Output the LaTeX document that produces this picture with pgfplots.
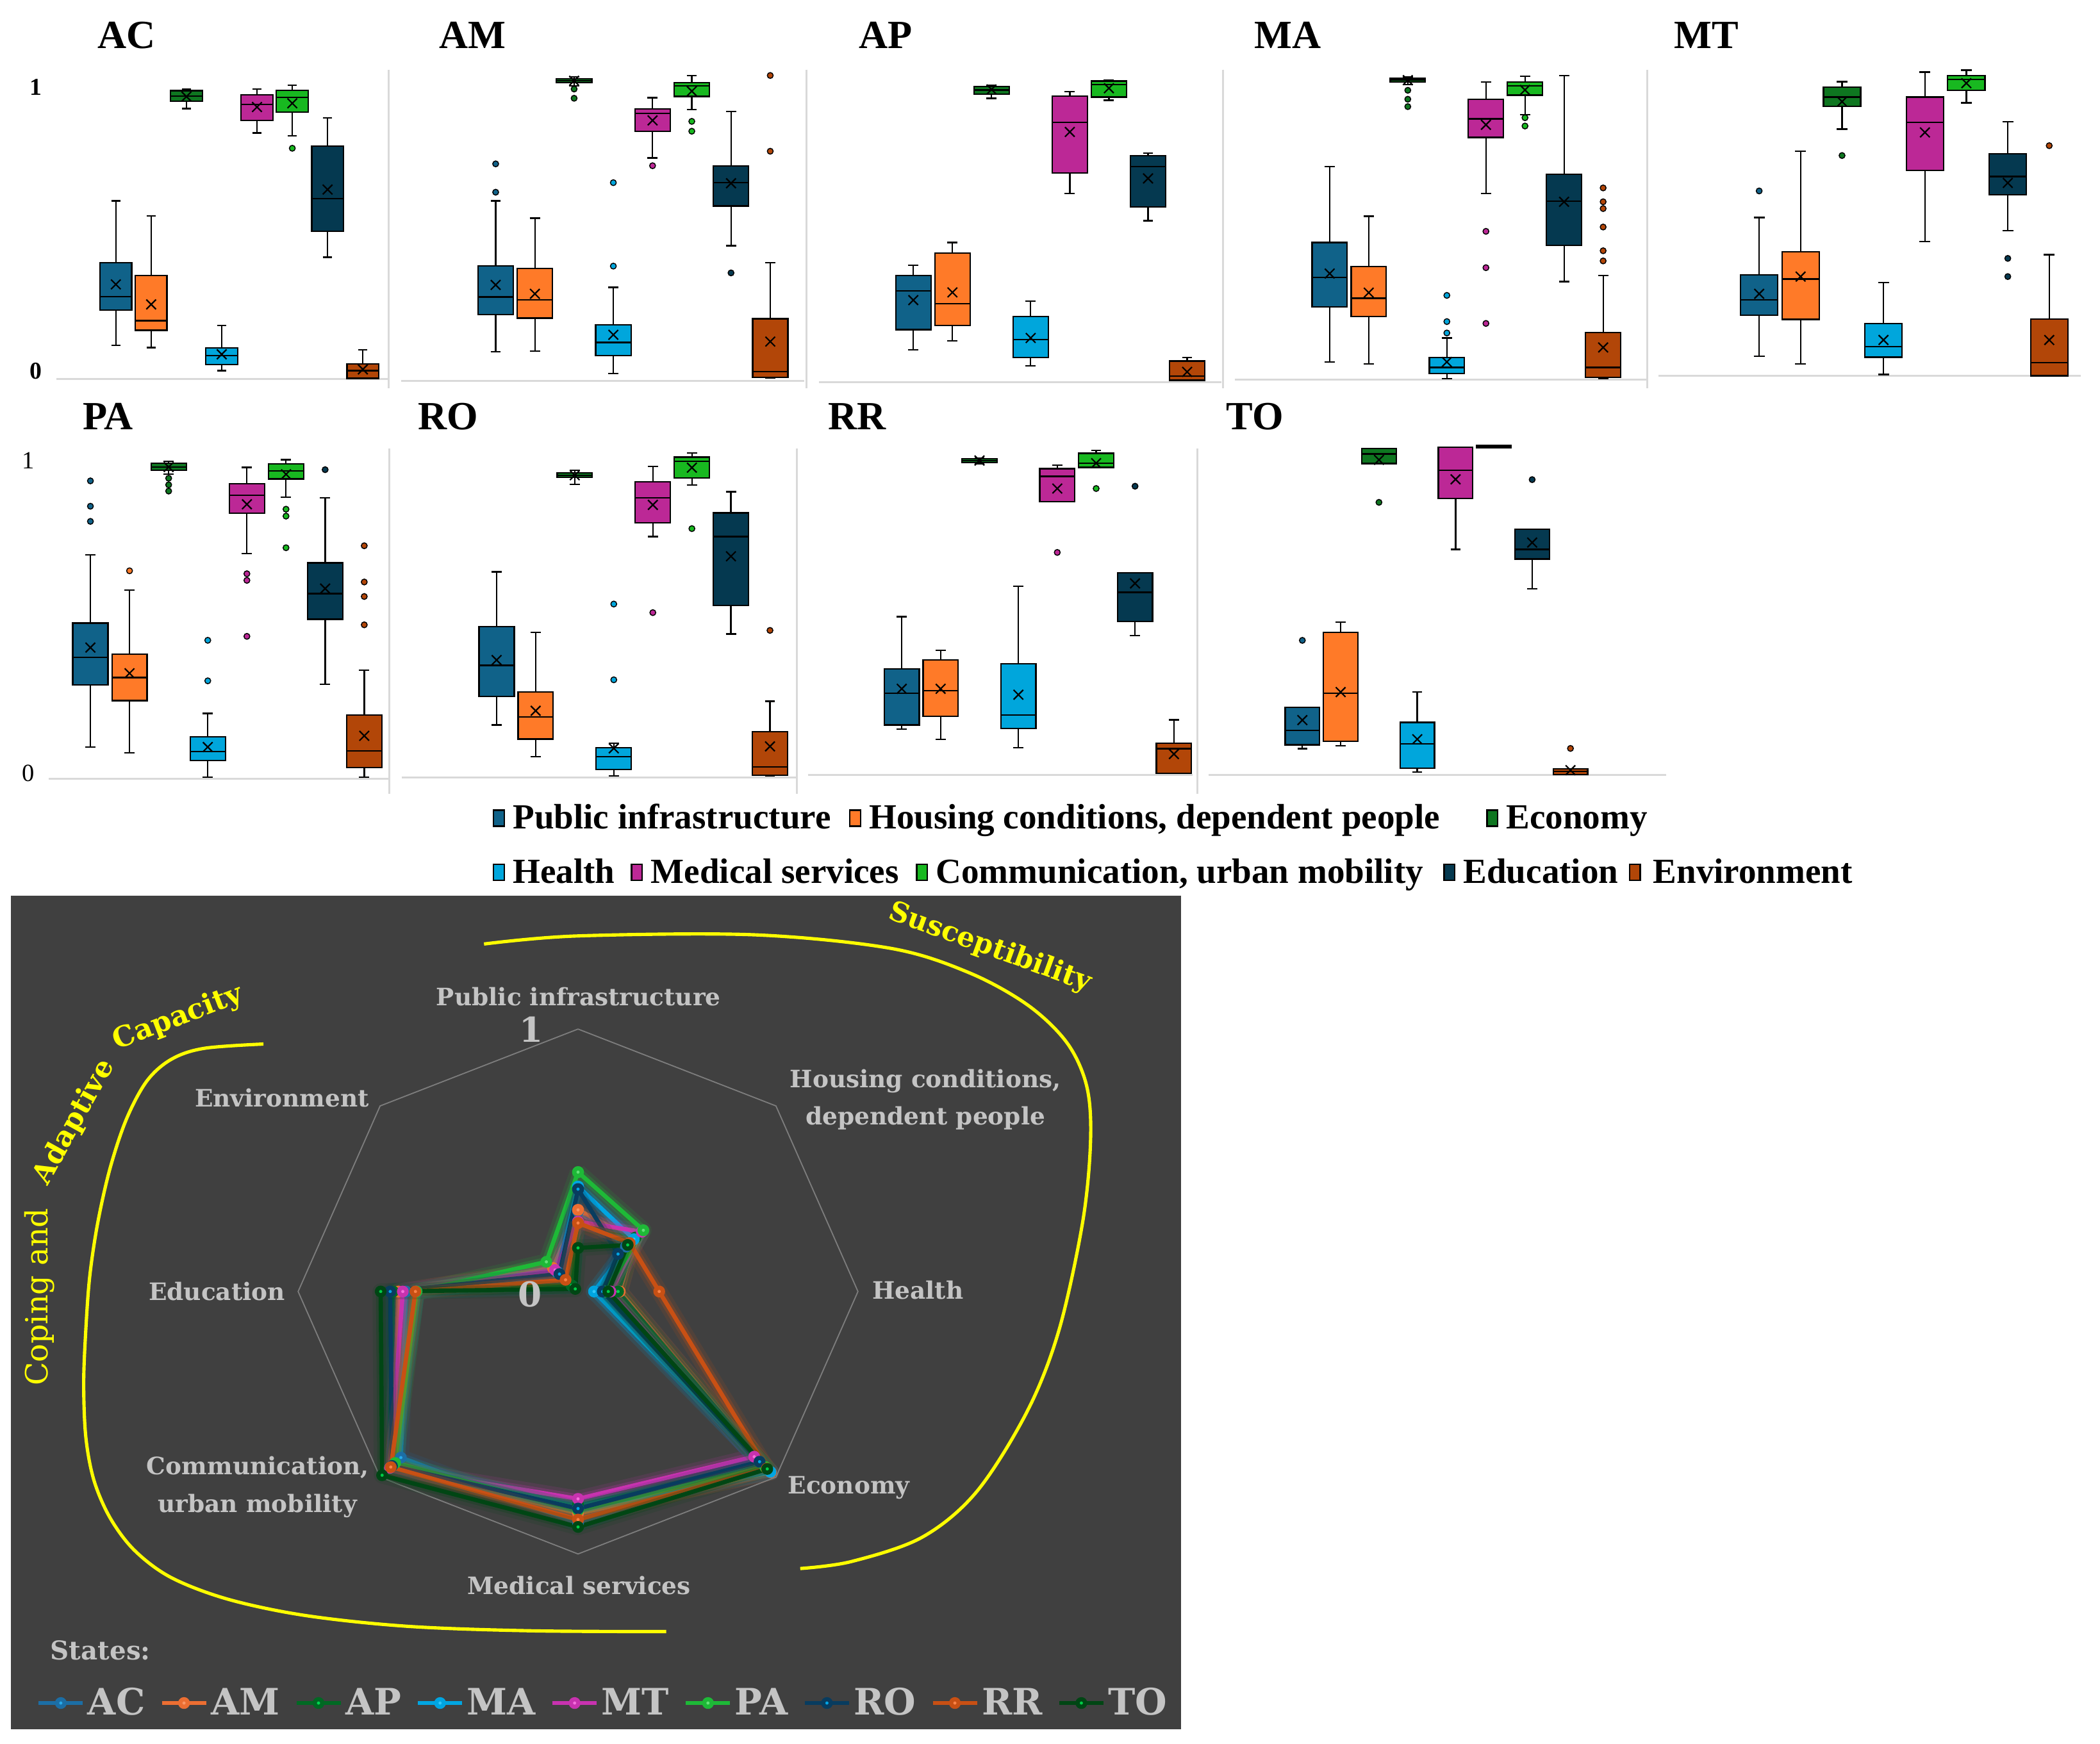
\documentclass[border=0pt]{standalone}
\usepackage{pgfplots}
\pgfplotsset{compat=1.18}
\usepackage{pgfplotstable}
\usepgfplotslibrary{statistics}
\usepackage{fontspec}
\setmainfont{Liberation Serif}
\newfontfamily\dvs{DejaVu Serif}

\definecolor{cPI}{RGB}{16,98,137}
\definecolor{cHO}{RGB}{255,122,40}
\definecolor{cEC}{RGB}{14,118,32}
\definecolor{cHE}{RGB}{0,166,220}
\definecolor{cME}{RGB}{188,40,150}
\definecolor{cCO}{RGB}{24,184,32}
\definecolor{cED}{RGB}{5,57,80}
\definecolor{cEN}{RGB}{178,70,8}
\definecolor{bgdark}{RGB}{64,64,64}
\definecolor{lblgray}{RGB}{196,196,196}
\definecolor{octgray}{RGB}{125,125,125}
\definecolor{sepgray}{RGB}{217,217,217}
\definecolor{yel}{RGB}{255,255,0}
\definecolor{sAC}{RGB}{28,110,165}\definecolor{dAC}{RGB}{40,170,235}
\definecolor{sAM}{RGB}{235,110,50}\definecolor{dAM}{RGB}{250,150,100}
\definecolor{sAP}{RGB}{0,105,35}\definecolor{dAP}{RGB}{0,215,80}
\definecolor{sMA}{RGB}{0,165,225}\definecolor{dMA}{RGB}{50,200,250}
\definecolor{sMT}{RGB}{200,50,175}\definecolor{dMT}{RGB}{245,110,220}
\definecolor{sPA}{RGB}{30,185,55}\definecolor{dPA}{RGB}{100,225,120}
\definecolor{sRO}{RGB}{8,60,95}\definecolor{dRO}{RGB}{0,165,230}
\definecolor{sRR}{RGB}{200,80,20}\definecolor{dRR}{RGB}{250,130,70}
\definecolor{sTO}{RGB}{0,70,20}\definecolor{dTO}{RGB}{0,205,70}

\pgfplotsset{
 bpax/.style={anchor=south west, scale only axis, hide axis, ymin=0, ymax=1, clip=false,
   boxplot/draw direction=y, boxplot/box extend=0.9, boxplot/whisker extend=0.26},
 bps/.style={fill=#1, draw=black, line width=0.62pt, solid, mark=*, mark size=1.25pt,
   mark options={fill=#1, draw=black, line width=0.4pt}},
 meanx/.style={only marks, mark=x, mark size=2.9pt, black, line width=0.6pt},
}
\newcommand{\bxx}[7]{\addplot[bps=#2, boxplot prepared={draw position=#1, lower whisker=#3, lower quartile=#4, median=#5, upper quartile=#6, upper whisker=#7}] coordinates {};}
\newcommand{\bxo}[8]{\addplot[bps=#2, boxplot prepared={draw position=#1, lower whisker=#3, lower quartile=#4, median=#5, upper quartile=#6, upper whisker=#7}] table[row sep=\\, y index=0] {v\\ #8};}
\newcommand{\basel}{\draw[sepgray, line width=0.9pt] (rel axis cs:0,0) -- (rel axis cs:1,0);}

\pgfplotstableread{
ang AC AM AP MA MT PA RO RR TO
90 .307 .311 .266 .400 .266 .455 .390 .261 .166
45 .242 .282 .291 .282 .322 .330 .202 .261 .251
0 .080 .149 .143 .057 .116 .096 .088 .290 .108
-45 .917 .974 .950 .972 .890 .946 .917 .954 .956
-90 .883 .845 .812 .827 .790 .833 .827 .869 .897
-135 .895 .940 .954 .940 .950 .924 .940 .946 .990
-180 .615 .641 .661 .577 .626 .577 .671 .581 .705
135 .031 .127 .033 .104 .116 .160 .094 .063 .014
90 .307 .311 .266 .400 .266 .455 .390 .261 .166
}\radar
\pgfplotstableread{
ang r
90 1
45 1
0 1
-45 1
-90 1
-135 1
-180 1
135 1
90 1
}\octo
\newcommand{\rad}[3]{%
\addplot[#2, line width=7pt, opacity=0.13, line join=round, forget plot, mark=none] table[x expr={\thisrow{#1}*cos(\thisrow{ang})}, y expr={\thisrow{#1}*sin(\thisrow{ang})}] {\radar};
\addplot[#2, line width=4pt, opacity=0.25, line join=round, forget plot, mark=none] table[x expr={\thisrow{#1}*cos(\thisrow{ang})}, y expr={\thisrow{#1}*sin(\thisrow{ang})}] {\radar};
\addplot[#2, line width=1.8pt, line join=round, mark=*, mark size=1.6pt, mark options={fill=#3, draw=none}] table[x expr={\thisrow{#1}*cos(\thisrow{ang})}, y expr={\thisrow{#1}*sin(\thisrow{ang})}] {\radar};
\addlegendentry{#1}}

\newcommand{\ttl}{\fontsize{17}{20}\selectfont\bfseries}
\newcommand{\lgf}{\fontsize{15}{18}\selectfont\bfseries}
\newcommand{\rlf}{\dvs\bfseries\fontsize{10.2}{12}\selectfont}

\begin{document}
\begin{tikzpicture}
\useasboundingbox (0,0) rectangle (313.6mm,-260.4mm);
\begin{scope}[x=0.2mm,y=-0.2mm]
\fill[white] (0,0) rectangle (1568,1302);
\fill[bgdark] (8.2,669) rectangle (881.7,1291.3);
\foreach \xx in {290.2,602,913,1230} \draw[sepgray, line width=0.8pt] (\xx,52) -- (\xx,290);
\foreach \xx in {290.7,595,894} \draw[sepgray, line width=0.8pt] (\xx,335) -- (\xx,593);
% titles
\node[font=\ttl, inner sep=0] at (94.5,26.5) {AC};
\node[font=\ttl, inner sep=0] at (353,26.5) {AM};
\node[font=\ttl, inner sep=0] at (661.5,26.5) {AP};
\node[font=\ttl, inner sep=0] at (961.5,26.5) {MA};
\node[font=\ttl, inner sep=0] at (1274,26.5) {MT};
\node[font=\ttl, inner sep=0] at (80.6,311) {PA};
\node[font=\ttl, inner sep=0] at (334.5,311) {RO};
\node[font=\ttl, inner sep=0] at (640,311) {RR};
\node[font=\ttl, inner sep=0] at (937,311) {TO};
% y labels
\node[font=\fontsize{10.3}{12}\selectfont\bfseries, inner sep=0] at (27,65) {1};
\node[font=\fontsize{10.3}{12}\selectfont\bfseries, inner sep=0] at (27,277) {0};
\node[font=\fontsize{10.5}{12}\selectfont, inner sep=0] at (21,344) {1};
\node[font=\fontsize{10.5}{12}\selectfont, inner sep=0] at (21,577.6) {0};
% legend of box plots
\filldraw[fill=cPI, draw=black, line width=0.6pt] (368.5,605) rectangle (376.5,617);
\node[anchor=base west, inner sep=0, font=\lgf] at (382.6,618.8) {Public infrastructure};
\filldraw[fill=cHO, draw=black, line width=0.6pt] (634.5,605) rectangle (642.5,617);
\node[anchor=base west, inner sep=0, font=\lgf] at (648.6,618.8) {Housing conditions, dependent people};
\filldraw[fill=cEC, draw=black, line width=0.6pt] (1110.3,605) rectangle (1118.3,617);
\node[anchor=base west, inner sep=0, font=\lgf] at (1124.3,618.8) {Economy};
\filldraw[fill=cHE, draw=black, line width=0.6pt] (368.5,645.5) rectangle (376.5,657.5);
\node[anchor=base west, inner sep=0, font=\lgf] at (382.6,659.4) {Health};
\filldraw[fill=cME, draw=black, line width=0.6pt] (471.5,645.5) rectangle (479.5,657.5);
\node[anchor=base west, inner sep=0, font=\lgf] at (485.7,659.4) {Medical services};
\filldraw[fill=cCO, draw=black, line width=0.6pt] (684.5,645.5) rectangle (692.5,657.5);
\node[anchor=base west, inner sep=0, font=\lgf] at (698.5,659.4) {Communication, urban mobility};
\filldraw[fill=cED, draw=black, line width=0.6pt] (1078.3,645.5) rectangle (1086.3,657.5);
\node[anchor=base west, inner sep=0, font=\lgf] at (1092.3,659.4) {Education};
\filldraw[fill=cEN, draw=black, line width=0.6pt] (1216.7,645.5) rectangle (1224.7,657.5);
\node[anchor=base west, inner sep=0, font=\lgf] at (1234,659.4) {Environment};
\end{scope}

% ---------------- AC
\begin{axis}[bpax, at={(8.38mm,-56.6mm)}, width=49.66mm, height=46mm, xmin=-0.693, xmax=8.731]
\basel
\bxx{1}{cPI}{.109}{.223}{.267}{.377}{.578}
\bxx{2}{cHO}{.102}{.158}{.189}{.336}{.529}
\bxx{3}{cEC}{.878}{.901}{.919}{.936}{.940}
\bxx{4}{cHE}{.027}{.046}{.076}{.101}{.173}
\bxx{5}{cME}{.799}{.840}{.891}{.922}{.942}
\bxo{6}{cCO}{.790}{.866}{.914}{.937}{.954}{.749\\}
\bxx{7}{cED}{.395}{.480}{.585}{.756}{.847}
\bxx{8}{cEN}{.002}{.002}{.027}{.049}{.095}
\addplot[meanx] coordinates {(1,.307)(2,.242)(3,.917)(4,.080)(5,.883)(6,.895)(7,.615)(8,.031)};
\end{axis}
% ---------------- AM
\begin{axis}[bpax, at={(59.9mm,-56.86mm)}, width=60.18mm, height=46mm, xmin=-1.410, xmax=8.863]
\basel
\bxo{1}{cPI}{.094}{.215}{.272}{.372}{.584}{.612\\.704\\}
\bxx{2}{cHO}{.096}{.203}{.262}{.364}{.528}
\bxo{3}{cEC}{.958}{.968}{.974}{.980}{.986}{.947\\.917\\}
\bxo{4}{cHE}{.023}{.082}{.124}{.182}{.303}{.372\\.643\\}
\bxo{5}{cME}{.723}{.810}{.868}{.882}{.919}{.698\\}
\bxo{6}{cCO}{.880}{.923}{.958}{.968}{.991}{.842\\.810\\}
\bxo{7}{cED}{.438}{.567}{.643}{.698}{.874}{.350\\}
\bxo{8}{cEN}{.008}{.011}{.029}{.201}{.383}{.745\\.991\\}
\addplot[meanx] coordinates {(1,.311)(2,.282)(3,.974)(4,.149)(5,.845)(6,.940)(7,.641)(8,.127)};
\end{axis}
% ---------------- AP
\begin{axis}[bpax, at={(122.28mm,-57.06mm)}, width=60.12mm, height=46mm, xmin=-1.414, xmax=8.877]
\basel
\bxx{1}{cPI}{.105}{.170}{.296}{.346}{.379}
\bxx{2}{cHO}{.133}{.184}{.255}{.418}{.453}
\bxx{3}{cEC}{.921}{.935}{.948}{.960}{.964}
\bxx{4}{cHE}{.053}{.079}{.138}{.213}{.262}
\bxx{5}{cME}{.612}{.679}{.843}{.928}{.943}
\bxx{6}{cCO}{.915}{.925}{.966}{.977}{.981}
\bxx{7}{cED}{.524}{.569}{.700}{.735}{.743}
\bxx{8}{cEN}{.006}{.006}{.020}{.068}{.080}
\addplot[meanx] coordinates {(1,.266)(2,.291)(3,.950)(4,.143)(5,.812)(6,.954)(7,.661)(8,.033)};
\end{axis}
% ---------------- MA
\begin{axis}[bpax, at={(184.44mm,-56.68mm)}, width=61.62mm, height=46mm, xmin=-1.420, xmax=9.142]
\basel
\bxx{1}{cPI}{.057}{.235}{.332}{.445}{.692}
\bxx{2}{cHO}{.051}{.205}{.264}{.367}{.530}
\bxo{3}{cEC}{.958}{.966}{.973}{.978}{.982}{.939\\.910\\.886\\}
\bxo{4}{cHE}{.002}{.020}{.039}{.072}{.135}{.151\\.188\\.273\\}
\bxo{5}{cME}{.604}{.786}{.846}{.909}{.966}{.481\\.363\\.182\\}
\bxo{6}{cCO}{.860}{.923}{.954}{.966}{.984}{.850\\.823\\}
\bxx{7}{cED}{.318}{.436}{.579}{.666}{.986}
\bxo{8}{cEN}{.004}{.007}{.039}{.153}{.337}{.622\\.577\\.555\\.495\\.418\\.385\\}
\addplot[meanx] coordinates {(1,.344)(2,.282)(3,.972)(4,.057)(5,.827)(6,.940)(7,.577)(8,.104)};
\end{axis}
% ---------------- MT
\begin{axis}[bpax, at={(247.7mm,-56.12mm)}, width=63.06mm, height=46mm, xmin=-1.424, xmax=8.767]
\basel
\bxo{1}{cPI}{.064}{.196}{.247}{.327}{.514}{.600\\}
\bxx{2}{cHO}{.038}{.183}{.314}{.403}{.729}
\bxo{3}{cEC}{.801}{.874}{.905}{.937}{.955}{.715\\}
\bxx{4}{cHE}{.004}{.060}{.094}{.170}{.303}
\bxx{5}{cME}{.436}{.666}{.823}{.905}{.986}
\bxx{6}{cCO}{.886}{.927}{.962}{.974}{.992}
\bxo{7}{cED}{.471}{.588}{.647}{.720}{.824}{.381\\.322\\}
\bxo{8}{cEN}{0}{0}{.043}{.184}{.393}{.747\\}
\addplot[meanx] coordinates {(1,.266)(2,.322)(3,.890)(4,.116)(5,.790)(6,.950)(7,.626)(8,.116)};
\end{axis}
% ---------------- PA
\begin{axis}[bpax, at={(7.24mm,-116.3mm)}, width=50.9mm, height=49.2mm, xmin=-0.072, xmax=8.641]
\basel
\bxo{1}{cPI}{.096}{.285}{.368}{.472}{.679}{.781\\.827\\.904\\}
\bxo{2}{cHO}{.078}{.237}{.307}{.378}{.573}{.631\\}
\bxo{3}{cEC}{.924}{.936}{.946}{.958}{.964}{.912\\.892\\.873\\}
\bxo{4}{cHE}{.004}{.055}{.082}{.127}{.198}{.297\\.420\\}
\bxo{5}{cME}{.683}{.806}{.861}{.896}{.945}{.622\\.602\\.432\\}
\bxo{6}{cCO}{.855}{.910}{.934}{.956}{.968}{.818\\.797\\.701\\}
\bxo{7}{cED}{.287}{.484}{.562}{.655}{.853}{.938\\}
\bxo{8}{cEN}{.004}{.034}{.084}{.193}{.329}{.707\\.597\\.553\\.467\\}
\addplot[meanx] coordinates {(1,.398)(2,.320)(3,.946)(4,.096)(5,.833)(6,.924)(7,.577)(8,.130)};
\end{axis}
% ---------------- RO
\begin{axis}[bpax, at={(60.04mm,-116.1mm)}, width=58.96mm, height=49.2mm, xmin=-1.421, xmax=8.689]
\basel
\bxx{1}{cPI}{.159}{.245}{.340}{.458}{.624}
\bxx{2}{cHO}{.063}{.116}{.183}{.259}{.440}
\bxx{3}{cEC}{.890}{.910}{.917}{.925}{.932}
\bxo{4}{cHE}{.004}{.024}{.062}{.090}{.104}{.296\\.526\\}
\bxo{5}{cME}{.731}{.773}{.849}{.897}{.944}{.500\\}
\bxo{6}{cCO}{.888}{.909}{.960}{.972}{.984}{.755\\}
\bxx{7}{cED}{.435}{.522}{.731}{.803}{.867}
\bxo{8}{cEN}{.004}{.006}{.032}{.138}{.231}{.446\\}
\addplot[meanx] coordinates {(1,.356)(2,.202)(3,.917)(4,.088)(5,.827)(6,.940)(7,.671)(8,.094)};
\end{axis}
% ---------------- RR
\begin{axis}[bpax, at={(120.66mm,-115.72mm)}, width=57.44mm, height=49.2mm, xmin=-1.411, xmax=8.482]
\basel
\bxx{1}{cPI}{.139}{.151}{.247}{.321}{.480}
\bxx{2}{cHO}{.107}{.177}{.255}{.349}{.378}
\bxx{3}{cEC}{.944}{.948}{.954}{.960}{.962}
\bxx{4}{cHE}{.082}{.141}{.181}{.337}{.573}
\bxo{5}{cME}{.829}{.829}{.906}{.929}{.940}{.675\\}
\bxo{6}{cCO}{.933}{.933}{.946}{.976}{.984}{.869\\}
\bxo{7}{cED}{.423}{.466}{.554}{.613}{.613}{.876\\}
\bxx{8}{cEN}{.004}{.004}{.079}{.096}{.167}
\addplot[meanx] coordinates {(1,.261)(2,.261)(3,.954)(4,.243)(5,.869)(6,.946)(7,.581)(8,.063)};
\end{axis}
% ---------------- TO
\begin{axis}[bpax, at={(180.48mm,-115.72mm)}, width=68.3mm, height=49.2mm, xmin=-1.448, xmax=10.493]
\basel
\bxo{1}{cPI}{.079}{.091}{.134}{.205}{.205}{.408\\}
\bxx{2}{cHO}{.088}{.102}{.247}{.432}{.464}
\bxo{3}{cEC}{.945}{.945}{.974}{.990}{.990}{.827\\}
\bxx{4}{cHE}{.008}{.020}{.094}{.159}{.251}
\bxx{5}{cME}{.684}{.839}{.925}{.995}{.995}
\bxx{6}{cCO}{.992}{.992}{.996}{.999}{.999}
\bxo{7}{cED}{.565}{.655}{.684}{.745}{.745}{.896\\}
\bxo{8}{cEN}{0}{0}{.010}{.018}{.018}{.080\\}
\addplot[meanx] coordinates {(1,.166)(2,.251)(3,.956)(4,.108)(5,.897)(7,.705)(8,.014)};
\end{axis}

% ---------------- radar
\begin{axis}[anchor=south west, at={(44.52mm,-232.1mm)}, scale only axis, width=83.6mm, height=78.4mm,
  xmin=-1, xmax=1, ymin=-1, ymax=1, hide axis, clip=false,
  legend columns=9,
  legend style={at={(0.545,-0.284)}, anchor=center, draw=none, fill=none, text=lblgray,
    font=\dvs\bfseries\fontsize{15.5}{18}\selectfont, inner sep=0pt, nodes={inner sep=0.4mm},
    /tikz/every even column/.append style={column sep=1.8mm}},
  legend image code/.code={\draw[mark repeat=2, mark phase=2, #1] plot coordinates {(0mm,0mm) (3.3mm,0mm) (6.6mm,0mm)};}]
\addplot[octgray, line width=0.5pt, forget plot] table[x expr={\thisrow{r}*cos(\thisrow{ang})}, y expr={\thisrow{r}*sin(\thisrow{ang})}] {\octo};
\rad{AC}{sAC}{dAC}
\rad{AM}{sAM}{dAM}
\rad{AP}{sAP}{dAP}
\rad{MA}{sMA}{dMA}
\rad{MT}{sMT}{dMT}
\rad{PA}{sPA}{dPA}
\rad{RO}{sRO}{dRO}
\rad{RR}{sRR}{dRR}
\rad{TO}{sTO}{dTO}
\end{axis}

\begin{scope}[x=0.2mm,y=-0.2mm]
\node[text=lblgray, font=\rlf, anchor=base, inner sep=0] at (432,751) {Public infrastructure};
\node[text=lblgray, font=\rlf, anchor=base, inner sep=0] at (691,812.4) {Housing conditions,};
\node[text=lblgray, font=\rlf, anchor=base, inner sep=0] at (691,839.8) {dependent people};
\node[text=lblgray, font=\rlf, anchor=base, inner sep=0] at (685.3,970) {Health};
\node[text=lblgray, font=\rlf, anchor=base west, inner sep=0] at (588,1115.4) {Economy};
\node[text=lblgray, font=\rlf, anchor=base, inner sep=0] at (432.4,1190.9) {Medical services};
\node[text=lblgray, font=\rlf, anchor=base, inner sep=0] at (192.5,1101.3) {Communication,};
\node[text=lblgray, font=\rlf, anchor=base, inner sep=0] at (192.2,1129.5) {urban mobility};
\node[text=lblgray, font=\rlf, anchor=base, inner sep=0] at (162,971) {Education};
\node[text=lblgray, font=\rlf, anchor=base, inner sep=0] at (210.5,826.5) {Environment};
\node[text=lblgray, font=\dvs\bfseries\fontsize{14.5}{17}\selectfont, inner sep=0] at (396.5,768.8) {1};
\node[text=lblgray, font=\dvs\bfseries\fontsize{14.5}{17}\selectfont, inner sep=0] at (395.9,966.5) {0};
\node[text=lblgray, font=\dvs\bfseries\fontsize{11}{13}\selectfont, anchor=base, inner sep=0] at (75,1239.5) {States:};
% yellow annotations
\draw[yel, line width=1.4pt] plot[smooth, tension=0.55] coordinates {(196.7,779.7) (152.5,782.9) (128.1,791) (109.8,807.1) (94.6,835.3) (82.4,871.7) (73.2,912) (67.1,952.4) (64.1,992.7) (62.5,1033) (64.1,1073.4) (70.2,1105.7) (82.4,1133.9) (100.7,1158.1) (128.1,1178.3) (170.8,1194.5) (228.8,1206.6) (305,1214.6) (396.5,1217.9) (497.4,1218.5)};
\draw[yel, line width=1.4pt] plot[smooth, tension=0.55] coordinates {(361.4,705) (430.6,699) (562.4,698.1) (664.9,708.2) (723.5,726.4) (767.4,750.6) (796.7,778.8) (811.4,811.1) (814.3,851.5) (808.5,912) (790.9,992.7) (767.4,1053.2) (729.4,1113.8) (688.4,1148.1) (635.6,1166.2) (597.5,1171.4)};
\node[text=yel, font=\dvs\fontsize{13}{15}\selectfont, rotate=90, inner sep=0] at (29.5,968.6) {Coping and};
\node[text=yel, font=\dvs\bfseries\fontsize{12}{14}\selectfont, rotate=61, inner sep=0] at (55.5,838) {Adaptive};
\node[text=yel, font=\dvs\bfseries\fontsize{12}{14}\selectfont, rotate=21, inner sep=0] at (133,760.5) {Capacity};
\node[text=yel, font=\dvs\bfseries\fontsize{11.8}{14}\selectfont, rotate=-20, inner sep=0] at (739,708) {Susceptibility};
\end{scope}
\end{tikzpicture}
\end{document}
